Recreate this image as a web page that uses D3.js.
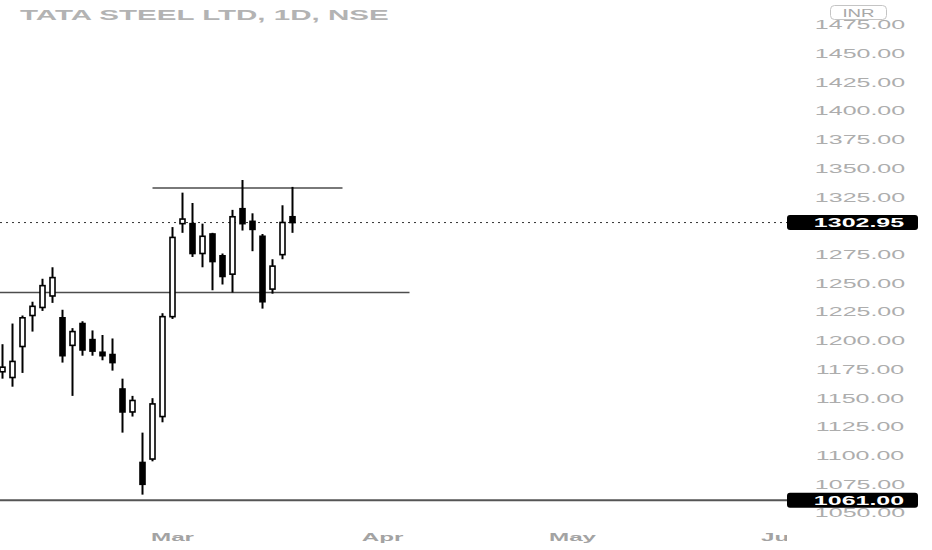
<!DOCTYPE html>
<html>
<head>
<meta charset="utf-8">
<script src="https://cdn.jsdelivr.net/npm/d3@7"></script>
<style>
  html, body { margin: 0; padding: 0; background: #fff; }
  svg { display: block; }
</style>
</head>
<body>
<svg id="chart" width="932" height="550"></svg>
<script>
// ---- Data (TATA STEEL LTD, 1D, NSE) ----
const dates = ["2022-02-04","2022-02-07","2022-02-08","2022-02-09","2022-02-10","2022-02-11",
  "2022-02-14","2022-02-15","2022-02-16","2022-02-17","2022-02-18","2022-02-21","2022-02-22",
  "2022-02-23","2022-02-24","2022-02-25","2022-02-28","2022-03-02","2022-03-03","2022-03-04",
  "2022-03-07","2022-03-08","2022-03-09","2022-03-10","2022-03-11","2022-03-14","2022-03-15",
  "2022-03-16","2022-03-17","2022-03-21"];
const open  = [1173,1168,1195,1222,1229,1239,1220,1196,1215,1201,1190,1188,1158,1138,1094,1097,1134,1221,1302,1302,1276,1293,1274,1258,1315,1304,1291,1245,1275,1308];
const high  = [1197,1215,1222,1234,1254,1264,1227,1211,1217,1209,1205,1202,1167,1152,1120,1150,1224,1299,1329,1320,1302,1294,1276,1314,1340,1311,1293,1271,1318,1334];
const low   = [1167,1160,1172,1208,1226,1233,1181,1152,1187,1187,1183,1174,1120,1134,1066,1095,1129,1219,1294,1273,1264,1244,1249,1242,1296,1278,1228,1241,1271,1294];
const close = [1177,1182,1220,1230,1248,1255,1187,1208,1192,1191,1187,1181,1138,1148,1075,1145,1221,1290,1306,1276,1291,1269,1256,1308,1302,1297,1234,1265,1303,1302.95];

const priceTicks = [1050,1075,1100,1125,1150,1175,1200,1225,1250,1275,1300,1325,1350,1375,1400,1425,1450,1475];
const monthLabels = ["Mar","Apr","May","Jun"];
const monthBarIndex = [17,38,57,78];

const title = "TATA STEEL LTD, 1D, NSE";
const currency = "INR";
const lastPrice = 1302.95;
const markedLow = 1061.00;
// drawn trend lines: price level, start bar, end bar
const resistance = {price: 1333, from: 15, to: 34};
const support = {price: 1242, from: -3, to: 40.7};

// ---- Layout ----
const W = 932, H = 550;
const axisLeft = 787;
const svg = d3.select("#chart");

const x = d3.scaleLinear().domain([0, 78]).range([2.5, 782.5]);
const y = d3.scaleLinear().domain([1050, 1475]).range([513, 25]);

const font = "'Liberation Sans', Arial, sans-serif";

function stretchedText(g, str, px, py, opts) {
  return g.append("text")
    .attr("transform", `translate(${px},${py}) scale(${opts.sx},1)`)
    .attr("text-anchor", opts.anchor || "middle")
    .attr("dy", opts.dy || "0.35em")
    .attr("font-family", font)
    .attr("font-size", opts.size)
    .attr("font-weight", opts.weight || "normal")
    .attr("fill", opts.fill)
    .text(str);
}

const plot = svg.append("g");
svg.append("defs").append("clipPath").attr("id", "plotClip")
  .append("rect").attr("x", 0).attr("y", 0).attr("width", axisLeft).attr("height", H);
plot.attr("clip-path", "url(#plotClip)");

// dotted last price line
plot.append("line")
  .attr("x1", 0).attr("x2", axisLeft)
  .attr("y1", y(lastPrice)).attr("y2", y(lastPrice))
  .attr("stroke", "#333").attr("stroke-width", 1).attr("stroke-dasharray", "2,4");

// marked low line
plot.append("line")
  .attr("x1", 0).attr("x2", axisLeft)
  .attr("y1", y(markedLow)).attr("y2", y(markedLow))
  .attr("stroke", "#555").attr("stroke-width", 2);

// support / resistance
[resistance, support].forEach(l => {
  plot.append("line")
    .attr("x1", x(l.from)).attr("x2", x(l.to))
    .attr("y1", y(l.price)).attr("y2", y(l.price))
    .attr("stroke", "#4d4d4d").attr("stroke-width", 1.4);
});

// candles
const candles = dates.map((d, i) => ({d, i, o: open[i], h: high[i], l: low[i], c: close[i]}));
const bodyW = 6.6;
const cg = plot.append("g");
cg.selectAll("line.wick").data(candles).join("line")
  .attr("class", "wick")
  .attr("x1", d => x(d.i)).attr("x2", d => x(d.i))
  .attr("y1", d => y(d.h)).attr("y2", d => y(d.l))
  .attr("stroke", "#000").attr("stroke-width", 2);
cg.selectAll("rect.body").data(candles).join("rect")
  .attr("class", "body")
  .each(function(d) {
    const up = d.c >= d.o;
    const top = y(Math.max(d.o, d.c)), bot = y(Math.min(d.o, d.c));
    const sel = d3.select(this);
    if (up) {
      sel.attr("x", x(d.i) - bodyW / 2 + 0.8).attr("width", bodyW - 1.6)
        .attr("y", top).attr("height", Math.max(bot - top, 2.5))
        .attr("fill", "#fff").attr("stroke", "#000").attr("stroke-width", 1.6);
    } else {
      sel.attr("x", x(d.i) - bodyW / 2).attr("width", bodyW)
        .attr("y", top - 0.8).attr("height", Math.max(bot - top + 1.6, 3))
        .attr("fill", "#000");
    }
  });

// ---- Title ----
stretchedText(svg, title, 20, 14.5, {sx: 1.97, size: 15, weight: "bold", fill: "#b3b3b3", anchor: "start"});

// ---- Time axis ----
const xg = svg.append("g");
monthLabels.forEach((m, k) => {
  stretchedText(xg, m, x(monthBarIndex[k]), 537, {sx: 2.2, size: 11, weight: "bold", fill: "#a3a3a3"});
});

// ---- Price axis ----
svg.append("rect").attr("x", axisLeft).attr("y", 0).attr("width", W - axisLeft).attr("height", H).attr("fill", "#fff");
const yg = svg.append("g");
const markers = [lastPrice, markedLow];
priceTicks
  .filter(p => markers.every(m => Math.abs(y(p) - y(m)) > 10))
  .forEach(p => {
    stretchedText(yg, d3.format(".2f")(p), 860, y(p), {sx: 2.0, size: 12.5, fill: "#adadad"});
  });

// price marker boxes
markers.forEach(p => {
  yg.append("rect")
    .attr("x", axisLeft).attr("y", y(p) - 7.5).attr("width", 131).attr("height", 15)
    .attr("rx", 3).attr("fill", "#000");
  stretchedText(yg, d3.format(".2f")(p), 859, y(p), {sx: 2.0, size: 12.5, weight: "bold", fill: "#fff"});
});

// currency badge
yg.append("rect").attr("x", 830.5).attr("y", 5.5).attr("width", 56).attr("height", 14)
  .attr("rx", 4).attr("fill", "#fff").attr("stroke", "#c4c4c4").attr("stroke-width", 1);
stretchedText(yg, currency, 858.5, 12.8, {sx: 1.7, size: 11, fill: "#a8a8a8"});
</script>
</body>
</html>
